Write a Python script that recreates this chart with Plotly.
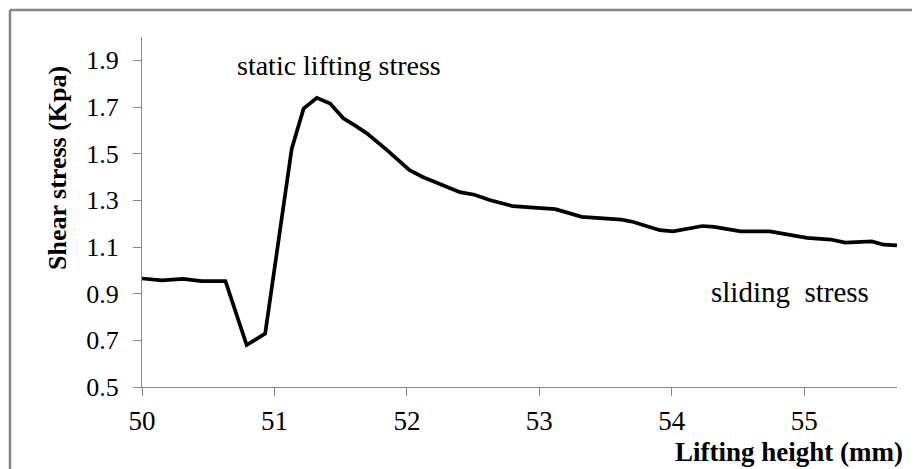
import plotly.graph_objects as go

# Lifting height (mm)
lifting_height = [50.0, 50.15, 50.31, 50.45, 50.63, 50.79, 50.93, 51.13, 51.22, 51.32,
                  51.42, 51.52, 51.61, 51.70, 51.85, 52.02, 52.12, 52.23, 52.40, 52.51,
                  52.63, 52.80, 53.12, 53.32, 53.62, 53.71, 53.91, 54.01, 54.23, 54.32,
                  54.52, 54.74, 55.02, 55.20, 55.31, 55.51, 55.60, 55.70]
# Shear stress (Kpa)
shear_stress = [0.965, 0.957, 0.963, 0.954, 0.954, 0.680, 0.729, 1.520, 1.693, 1.739,
                1.715, 1.652, 1.620, 1.586, 1.515, 1.429, 1.400, 1.376, 1.335, 1.324,
                1.300, 1.275, 1.262, 1.229, 1.217, 1.207, 1.172, 1.167, 1.190, 1.186,
                1.167, 1.167, 1.139, 1.132, 1.119, 1.124, 1.110, 1.107]

x_ticks = [50, 51, 52, 53, 54, 55]
y_ticks = [0.5, 0.7, 0.9, 1.1, 1.3, 1.5, 1.7, 1.9]
y_tick_labels = ["0.5", "0.7", "0.9", "1.1", "1.3", "1.5", "1.7", "1.9"]

FONT = "Liberation Serif"
AXIS_GREY = "#868686"

OFF = 8  # default page body margin
W, H = 920 - OFF, 469 - OFF
L, R, T, B = 142 - OFF, 23, 37 - OFF, 82
pw, ph = W - L - R, H - T - B


def px(xp):
    return (xp - OFF - L) / pw


def py(yp):
    return (H - B - (yp - OFF)) / ph


fig = go.Figure()
fig.add_trace(go.Scatter(
    x=lifting_height, y=shear_stress, mode="lines",
    line=dict(color="black", width=3.7),
    showlegend=False, hoverinfo="skip",
))

fig.update_layout(
    width=W, height=H,
    margin=dict(l=L, r=R, t=T, b=B),
    paper_bgcolor="white", plot_bgcolor="white",
    font=dict(family=FONT, color="black"),
    xaxis=dict(
        range=[50, 55.7], tickvals=x_ticks, ticktext=[str(v) for v in x_ticks],
        showgrid=False, zeroline=False, showline=True, linecolor=AXIS_GREY, linewidth=1,
        ticks="outside", ticklen=8, tickcolor=AXIS_GREY, tickwidth=1,
        tickfont=dict(family=FONT, size=27, color="black"),
        ticklabelstandoff=2,
    ),
    yaxis=dict(
        range=[0.5, 2.0], tickvals=y_ticks, ticktext=y_tick_labels,
        showgrid=False, zeroline=False, showline=True, linecolor=AXIS_GREY, linewidth=1,
        ticks="outside", ticklen=8, tickcolor=AXIS_GREY, tickwidth=1,
        tickfont=dict(family=FONT, size=26, color="black"),
        ticklabelstandoff=9,
    ),
    shapes=[
        dict(type="line", xref="paper", yref="paper",
             x0=px(10), x1=px(920), y0=py(10), y1=py(10),
             line=dict(color=AXIS_GREY, width=2.5)),
        dict(type="line", xref="paper", yref="paper",
             x0=px(10), x1=px(10), y0=py(10), y1=py(469),
             line=dict(color=AXIS_GREY, width=2.5)),
    ],
    annotations=[
        dict(text="static lifting stress", x=51.49, y=1.88, xref="x", yref="y",
             showarrow=False, font=dict(family=FONT, size=28, color="black"),
             xanchor="center", yanchor="middle"),
        dict(text="sliding&nbsp;&nbsp;stress", x=54.89, y=0.906, xref="x", yref="y",
             showarrow=False, font=dict(family=FONT, size=29, color="black"),
             xanchor="center", yanchor="middle"),
        dict(text="<b>Lifting height (mm)</b>", x=px(905), y=py(452),
             xref="paper", yref="paper", showarrow=False,
             font=dict(family=FONT, size=27, color="black"),
             xanchor="right", yanchor="middle"),
        dict(text="<b>Shear stress (Kpa)</b>", x=px(57), y=py(168),
             xref="paper", yref="paper", showarrow=False, textangle=-90,
             font=dict(family=FONT, size=26, color="black"),
             xanchor="center", yanchor="middle"),
    ],
)

fig.write_html("out.html")
